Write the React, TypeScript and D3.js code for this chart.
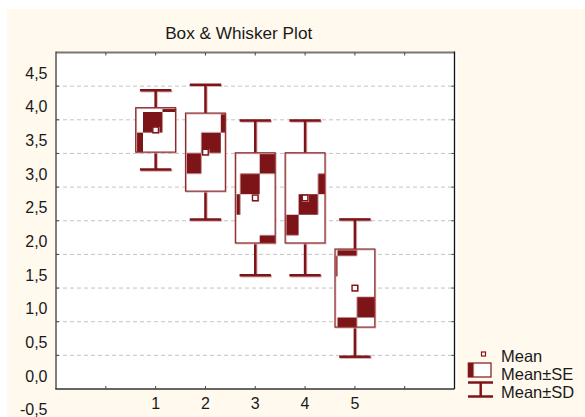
import React from "react";
import * as d3 from "d3";

// ---- data ----
const categories = ["1", "2", "3", "4", "5"];
const categoryPos = [1, 2, 3, 4, 5];
const means = [3.85, 3.52, 2.84, 2.84, 1.5];
const stdErrs = [0.33, 0.58, 0.67, 0.67, 0.58];
const stdDevs = [0.59, 1.0, 1.15, 1.15, 1.02];
const yTickValues = [-0.5, 0, 0.5, 1, 1.5, 2, 2.5, 3, 3.5, 4, 4.5];
const gridValues = [0.5, 1, 1.5, 2, 2.5, 3, 3.5, 4, 4.5];
const xTickValues = [0, 1, 2, 3, 4, 5, 6];
const legendLabels = ["Mean", "Mean±SE", "Mean±SD"];
const title = "Box & Whisker Plot";

const W = 585;
const H = 417;
const plot = { left: 56, right: 454.5, top: 52.5, bottom: 389 };
const DARK = "#7d1417";
const HALO = "#dcaeb0";
const FONT = "'Liberation Sans', Arial, sans-serif";

export default function App() {
  const x = d3.scaleLinear().domain([-1, 7]).range([plot.left, plot.right]);
  const y = d3.scaleLinear().domain([0, 5]).range([plot.bottom, plot.top]);
  const fmt = (v: number) =>
    d3.format(".1f")(v).replace(".", ",").replace("\u2212", "-");
  const unit = x(1) - x(0);
  const boxW = unit * 0.8;
  const capW = unit * 0.63;

  const cellW = 19.45;
  const cellH = 20.55;
  const darkCells = [
    [0, 0],
    [1, 3],
    [2, 2],
    [3, 1],
  ];

  return (
    <svg
      width={W}
      height={H}
      style={{ position: "absolute", left: 0, top: 0 }}
      fontFamily={FONT}
    >
      <defs>
        <pattern
          id="seFill"
          patternUnits="userSpaceOnUse"
          x={143}
          y={112}
          width={cellW * 4}
          height={cellH * 4}
        >
          <rect width={cellW * 4} height={cellH * 4} fill="#ffffff" />
          {darkCells.map(([c, r], i) => (
            <rect
              key={i}
              x={c * cellW}
              y={r * cellH}
              width={cellW}
              height={cellH}
              fill={DARK}
            />
          ))}
        </pattern>
      </defs>
      <rect x={0} y={0} width={W} height={H} fill="#ffffff" />
      <rect x={7} y={9} width={W - 7} height={H - 9} fill="#FFF9EE" />
      <rect
        x={plot.left}
        y={plot.top}
        width={plot.right - plot.left + 3}
        height={plot.bottom - plot.top}
        fill="#ffffff"
      />
      <text
        x={238.7}
        y={38.5}
        fontSize={17.2}
        textAnchor="middle"
        fill="#1a1a1a"
      >
        {title}
      </text>

      {/* gridlines */}
      {gridValues.map((v) => (
        <line
          key={v}
          x1={plot.left}
          x2={plot.right}
          y1={y(v)}
          y2={y(v)}
          stroke="#c4c4c4"
          strokeWidth={1}
          strokeDasharray="4,3"
        />
      ))}

      {/* whiskers */}
      {categoryPos.map((c, i) => {
        const cx = x(c);
        const top = y(means[i] + stdDevs[i]);
        const bot = y(means[i] - stdDevs[i]);
        return (
          <g key={"w" + i}>
            <g stroke={HALO} strokeWidth={2.5} transform="translate(1,1)">
              <line x1={cx} x2={cx} y1={top} y2={bot} />
              <line x1={cx - capW / 2} x2={cx + capW / 2} y1={top} y2={top} />
              <line x1={cx - capW / 2} x2={cx + capW / 2} y1={bot} y2={bot} />
            </g>
            <g stroke={DARK} strokeWidth={2.5}>
              <line x1={cx} x2={cx} y1={top} y2={bot} />
              <line x1={cx - capW / 2} x2={cx + capW / 2} y1={top} y2={top} />
              <line x1={cx - capW / 2} x2={cx + capW / 2} y1={bot} y2={bot} />
            </g>
          </g>
        );
      })}

      {/* SE boxes */}
      {categoryPos.map((c, i) => {
        const cx = x(c);
        const top = y(means[i] + stdErrs[i]);
        const bot = y(means[i] - stdErrs[i]);
        return (
          <g key={"b" + i}>
            <rect
              x={cx - boxW / 2}
              y={top}
              width={boxW}
              height={bot - top}
              fill="url(#seFill)"
            />
            <rect
              x={cx - boxW / 2 + 0.8}
              y={top + 0.8}
              width={boxW}
              height={bot - top}
              fill="none"
              stroke={HALO}
              strokeWidth={1.2}
            />
            <rect
              x={cx - boxW / 2}
              y={top}
              width={boxW}
              height={bot - top}
              fill="none"
              stroke="#8a2c2e"
              strokeWidth={1.2}
            />
          </g>
        );
      })}

      {/* means */}
      {categoryPos.map((c, i) => (
        <g key={"m" + i}>
          <rect
            x={x(c) - 2.3}
            y={y(means[i]) - 2.3}
            width={5.6}
            height={5.6}
            fill="none"
            stroke={HALO}
            strokeWidth={1.4}
          />
          <rect
            x={x(c) - 2.8}
            y={y(means[i]) - 2.8}
            width={5.6}
            height={5.6}
            fill="#ffffff"
            stroke={DARK}
            strokeWidth={1.4}
          />
        </g>
      ))}

      {/* frame */}
      <line x1={plot.left} x2={plot.right} y1={plot.top} y2={plot.top} stroke="#777" strokeWidth={2} />
      <line x1={plot.left} x2={plot.left} y1={plot.top - 1} y2={plot.bottom} stroke="#555" strokeWidth={1.5} />
      <line x1={plot.right} x2={plot.right} y1={plot.top - 1} y2={plot.bottom} stroke="#111" strokeWidth={1.3} />
      <line x1={plot.left - 0.7} x2={plot.right} y1={plot.bottom} y2={plot.bottom} stroke="#333" strokeWidth={1.5} />

      {/* ticks */}
      {xTickValues.map((v) => (
        <g key={"xt" + v} stroke="#444" strokeWidth={1}>
          <line x1={x(v)} x2={x(v)} y1={plot.bottom} y2={plot.bottom - 3} />
          <line x1={x(v)} x2={x(v)} y1={plot.top} y2={plot.top + 3} />
        </g>
      ))}
      {gridValues.map((v) => (
        <g key={"yt" + v} stroke="#444" strokeWidth={1}>
          <line x1={plot.left} x2={plot.left + 3} y1={y(v)} y2={y(v)} />
          <line x1={plot.right} x2={plot.right - 3} y1={y(v)} y2={y(v)} />
        </g>
      ))}

      {/* y tick labels */}
      {yTickValues.map((v) => (
        <text
          key={"yl" + v}
          x={47.5}
          y={y(v) - 13}
          fontSize={16}
          textAnchor="end"
          dominantBaseline="central"
          fill="#1a1a1a"
        >
          {fmt(v)}
        </text>
      ))}

      {/* x tick labels */}
      {categoryPos.map((c, i) => (
        <text
          key={"xl" + i}
          x={x(c)}
          y={403.5}
          fontSize={16}
          textAnchor="middle"
          dominantBaseline="central"
          fill="#1a1a1a"
        >
          {categories[i]}
        </text>
      ))}

      {/* legend */}
      <g>
        <rect x={481.5} y={352} width={4} height={4} fill="#fff" stroke={DARK} strokeWidth={1.2} />
        <rect x={468.3} y={363} width={22.7} height={14} fill="url(#seFill)" />
        <rect x={468.3} y={363} width={22.7} height={14} fill="none" stroke={DARK} strokeWidth={1.2} />
        <g stroke={DARK} strokeWidth={2.5}>
          <line x1={468} x2={493} y1={382.5} y2={382.5} />
          <line x1={480.7} x2={480.7} y1={382.5} y2={396.5} />
          <line x1={468} x2={493} y1={396.5} y2={396.5} />
        </g>
        {legendLabels.map((l, i) => (
          <text
            key={l}
            x={501}
            y={355.5 + i * 18}
            fontSize={16.5}
            dominantBaseline="central"
            fill="#1a1a1a"
          >
            {l}
          </text>
        ))}
      </g>
    </svg>
  );
}
